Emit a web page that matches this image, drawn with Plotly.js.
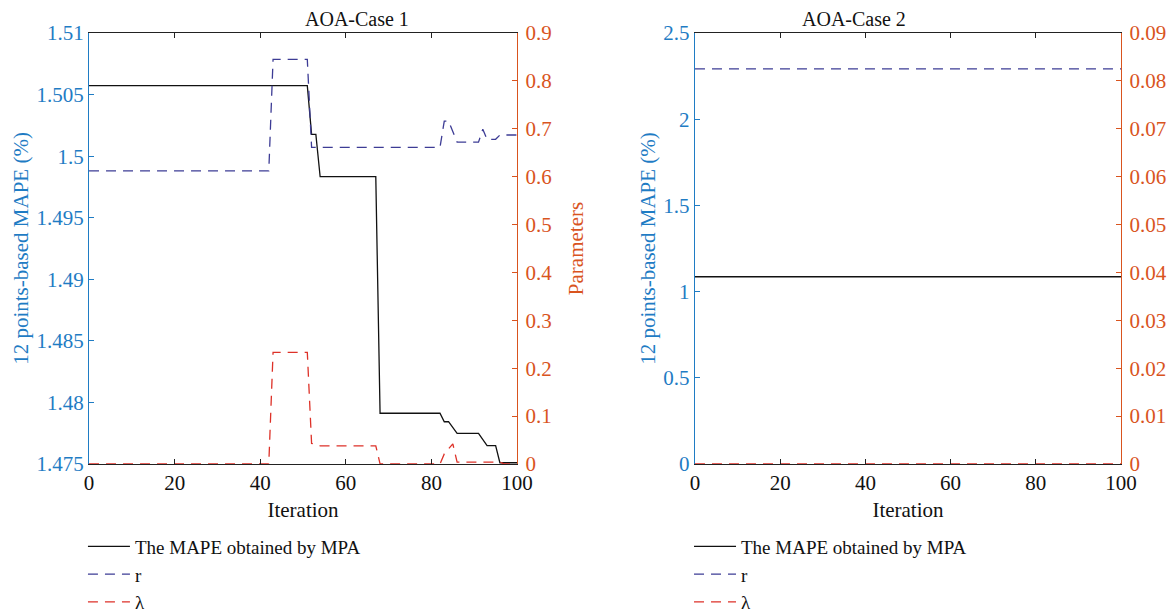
<!DOCTYPE html>
<html>
<head>
<meta charset="utf-8">
<script src="https://cdn.plot.ly/plotly-3.0.1.min.js"></script>
<style>html,body{margin:0;padding:0;background:#fff;}#chart{width:1170px;height:616px;}</style>
</head>
<body>
<div id="chart"></div>
<script>
// ---- Case 1 data (breakpoints of the step-like convergence curves) ----
var case1MapeIter = [0, 51, 52, 53, 54, 67, 68, 82, 83, 84, 86, 91, 93, 95, 96, 100];
var case1Mape     = [1.50572, 1.50572, 1.50177, 1.50177, 1.49833, 1.49833, 1.47912, 1.47912, 1.47843, 1.47843, 1.47749, 1.47749, 1.47649, 1.47649, 1.4751, 1.4751];
var case1RIter    = [0, 42, 43, 51, 52, 82, 83, 84, 86, 91, 92, 93, 95, 96, 100];
var case1R        = [0.612, 0.612, 0.845, 0.845, 0.661, 0.661, 0.716, 0.716, 0.672, 0.672, 0.699, 0.678, 0.678, 0.687, 0.687];
var case1LamIter  = [0, 42, 43, 51, 52, 54, 67, 68, 82, 83, 85, 86, 96, 97, 100];
var case1Lam      = [0, 0, 0.233, 0.233, 0.043, 0.038, 0.038, 0, 0, 0.021, 0.042, 0.004, 0.004, 0, 0];
// ---- Case 2 data ----
var case2Iter = [0, 100];
var case2Mape = [1.086, 1.086];
var case2R    = [0.0825, 0.0825];
var case2Lam  = [0, 0];
// ---- labels ----
var titles = ["AOA-Case 1", "AOA-Case 2"];
var seriesNames = ["The MAPE obtained by MPA", "r", "\u03bb"];
var xTitle = "Iteration";
var yLeftTitle = "12 points-based MAPE (%)";
var yRightTitle = "Parameters";

var FONT = "Liberation Serif, Times New Roman, serif";
var BLUE = "#1f7cc4", ORANGE = "#d9541e", BLACK = "#111111";
var RCOL = "#3d3c95", LCOL = "#dd3128";
var DASH = "10px,7px";
var FS = 21;

function tr(x, y, name, color, dash, xa, ya, leg) {
  return {x: x, y: y, name: name, type: "scatter", mode: "lines",
    line: {color: color, width: 1.3, dash: dash},
    xaxis: xa, yaxis: ya, legend: leg, showlegend: true, hoverinfo: "skip"};
}

var data = [
  tr(case1MapeIter, case1Mape, seriesNames[0], BLACK, "solid", "x", "y", "legend"),
  tr(case1RIter, case1R, seriesNames[1], RCOL, DASH, "x", "y2", "legend"),
  tr(case1LamIter, case1Lam, seriesNames[2], LCOL, DASH, "x", "y2", "legend"),
  tr(case2Iter, case2Mape, seriesNames[0], BLACK, "solid", "x2", "y3", "legend2"),
  tr(case2Iter, case2R, seriesNames[1], RCOL, DASH, "x2", "y4", "legend2"),
  tr(case2Iter, case2Lam, seriesNames[2], LCOL, DASH, "x2", "y4", "legend2")
];

var yDom = [0.2468, 0.9464];
function xax(dom, anchor) {
  return {domain: dom, anchor: anchor, range: [0, 100], tick0: 0, dtick: 20,
    showline: true, linecolor: "#222", linewidth: 1, mirror: "ticks",
    ticks: "inside", ticklen: 5, tickcolor: "#222", showgrid: false, zeroline: false,
    tickfont: {family: FONT, size: FS, color: "#111"},
    title: {text: xTitle, font: {family: FONT, size: FS, color: "#111"}, standoff: 8}};
}
function yax(range, tick0, dtick, color, side, overlay, anchor, title, standoff) {
  var a = {domain: yDom, anchor: anchor, range: range, tick0: tick0, dtick: dtick, side: side,
    showline: true, linecolor: color, linewidth: 1.2, ticks: "inside", ticklen: 5, tickcolor: color,
    showgrid: false, zeroline: false, ticklabelstandoff: side === "right" ? 3 : 0,
    tickfont: {family: FONT, size: FS, color: color},
    title: {text: title, font: {family: FONT, size: FS, color: color}, standoff: standoff}};
  if (overlay) a.overlaying = overlay;
  return a;
}

var legendCommon = {xanchor: "left", y: 0.1435, yanchor: "top", bgcolor: "rgba(0,0,0,0)",
  font: {family: FONT, size: 19, color: "#111"}, tracegroupgap: 0, itemwidth: 42};

var layout = {
  width: 1170, height: 616,
  margin: {l: 0, r: 0, t: 0, b: 0, autoexpand: false},
  paper_bgcolor: "#fff", plot_bgcolor: "rgba(0,0,0,0)",
  font: {family: FONT, size: FS, color: "#111"},
  xaxis: xax([0.0761, 0.4419], "y"),
  xaxis2: xax([0.5940, 0.9581], "y3"),
  yaxis: yax([1.475, 1.51], 1.475, 0.005, BLUE, "left", null, "x", yLeftTitle, 2),
  yaxis2: yax([0, 0.9], 0, 0.1, ORANGE, "right", "y", "x", yRightTitle, 17),
  yaxis3: yax([0, 2.5], 0, 0.5, BLUE, "left", null, "x2", yLeftTitle, 2),
  yaxis4: yax([0, 0.09], 0, 0.01, ORANGE, "right", "y3", "x2", "", 2),
  legend: Object.assign({x: 0.0709}, legendCommon),
  legend2: Object.assign({x: 0.5889}, legendCommon),
  annotations: [
    {text: titles[0], xref: "paper", yref: "paper", x: (0.0761 + 0.4419) / 2, y: 0.9464, yanchor: "bottom", yshift: 1,
      showarrow: false, font: {family: FONT, size: 20, color: "#111"}},
    {text: titles[1], xref: "paper", yref: "paper", x: (0.5940 + 0.9581) / 2, y: 0.9464, yanchor: "bottom", yshift: 1,
      showarrow: false, font: {family: FONT, size: 20, color: "#111"}}
  ]
};

Plotly.newPlot("chart", data, layout, {displayModeBar: false, staticPlot: true});
</script>
</body>
</html>
